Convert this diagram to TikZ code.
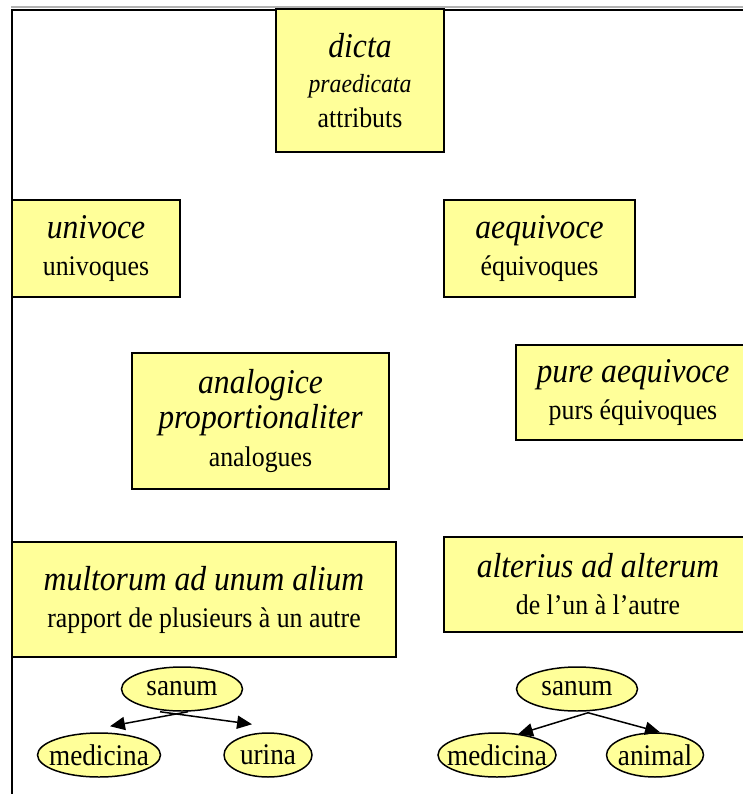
\documentclass[tikz,border=0pt]{standalone}
\usepackage{fontspec}
\setmainfont{Liberation Serif}
\usetikzlibrary{arrows.meta,calc,shapes.geometric}
\definecolor{paleyellow}{HTML}{FFFF99}
\newcommand{\fr}[1]{\scalebox{1}[1.1]{#1}}
\newcommand{\lat}[1]{\scalebox{1}[1.1]{\fontsize{18}{20}\selectfont\itshape #1}}
\newcommand{\latsmall}[1]{\scalebox{1}[1.1]{\fontsize{13.5}{20}\selectfont\itshape #1}}
\newcommand{\ov}[1]{\makebox[0pt]{\scalebox{1}[1.1]{#1}}}
\tikzset{
	cell/.style={draw=black, line width=1.1pt, fill=paleyellow, inner sep=0pt, align=center, font=\fontsize{14.7}{20}\selectfont},
	oval/.style={ellipse, draw=black, line width=0.85pt, fill=paleyellow, inner sep=0pt, minimum height=0.88cm, font=\fontsize{15.5}{18}\selectfont},
	arr/.style={-{Triangle[length=8.5pt,width=7.5pt]}, line width=0.85pt}
}

\begin{document}
\begin{tikzpicture}[x=0.02cm, y=-0.02cm]
			%%%%% START %%%%%
			
			\useasboundingbox (0,0) rectangle (743,794);
			\clip (0,0) rectangle (743,794);
			
			\draw[color=black!30, line width=0.8pt] (11,7) -- (743,7);
			\draw[line width=1.2pt] (12,794) -- (12,10) -- (743,10);
			
			\node[cell, minimum width=3.36cm, minimum height=2.86cm] (dicta) at (360,80.5) {\lat{dicta}\\\latsmall{praedicata}\\\fr{attributs}};
			
			\node[cell, minimum width=3.36cm, minimum height=1.94cm] (univoce) at (96,248.5) {\lat{univoce}\\[1.5pt]\fr{univoques}};
			\node[cell, minimum width=3.82cm, minimum height=1.94cm] (aequivoce) at (539.5,248.5) {\lat{aequivoce}\\[1.5pt]\fr{équivoques}};
			
			\node[cell, minimum width=5.14cm, minimum height=2.72cm] (analogice) at (260.5,421) {\lat{analogice}\\\lat{proportionaliter}\\[1.5pt]\fr{analogues}};
			\node[cell, minimum width=4.68cm, minimum height=1.9cm] (pure) at (633,392.5) {\lat{pure aequivoce}\\[1pt]\fr{purs équivoques}};
			
			\node[cell, minimum width=7.68cm, minimum height=2.3cm] (multorum) at (204,599.5) {\lat{multorum ad unum alium}\\[1pt]\fr{rapport de plusieurs à un autre}};
			\node[cell, minimum width=6.16cm, minimum height=1.9cm] (alterius) at (598,584.5) {\lat{alterius ad alterum}\\[1pt]\fr{de l’un à l’autre}};
			
			\node[oval, minimum width=2.42cm] (sanA) at (182,689) {\ov{sanum}};
			\node[oval, minimum width=2.46cm] (medA) at (99,755) {\ov{medicina}};
			\node[oval, minimum width=1.76cm] (urA) at (268,755) {\ov{urina}};
			\draw[arr] ($(sanA.south)+(6,0)$) -- ($(medA.north)+(11,-6)$);
			\draw[arr] ($(sanA.south)+(-22,0)$) -- ($(urA.north)+(-16,-8)$);
			
			\node[oval, minimum width=2.42cm] (sanB) at (577,689) {\ov{sanum}};
			\node[oval, minimum width=2.36cm] (medB) at (497,755) {\ov{medicina}};
			\node[oval, minimum width=1.94cm] (animal) at (655,755) {\ov{animal}};
			\draw[arr] ($(sanB.south)+(11,1)$) -- ($(medB.north)+(21,2)$);
			\draw[arr] ($(sanB.south)+(11,1)$) -- ($(animal.north)+(5,0)$);
			
			%%%%% END %%%%%
\end{tikzpicture}
\end{document}
